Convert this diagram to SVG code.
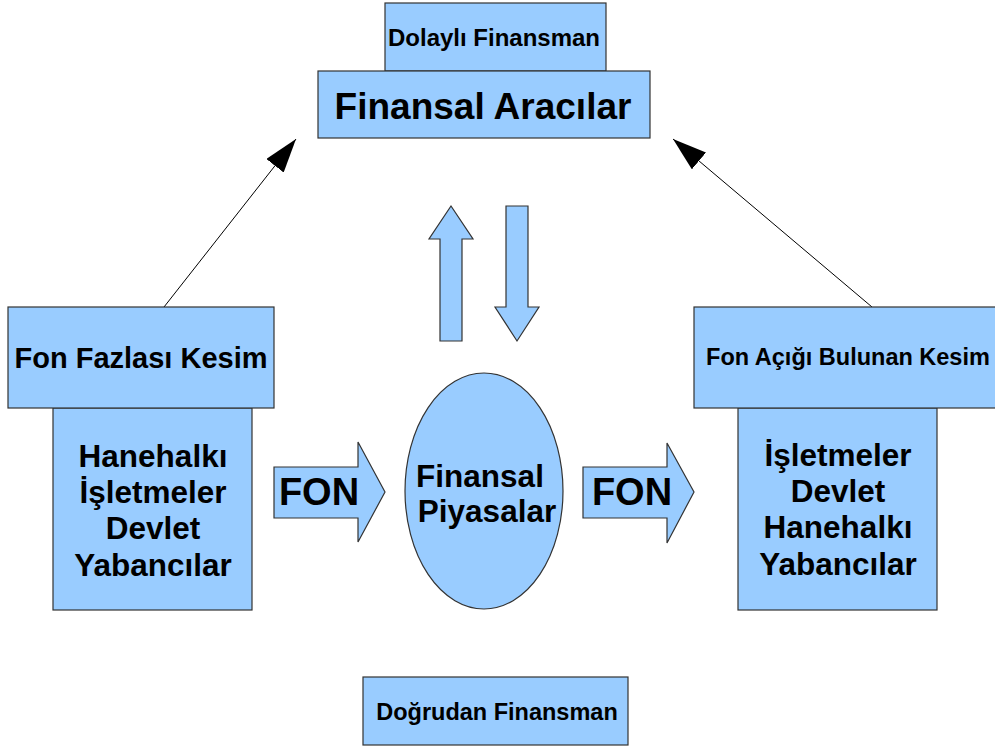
<svg xmlns="http://www.w3.org/2000/svg" width="995" height="746" viewBox="0 0 995 746">
<style>
.box{fill:#99ccff;stroke:#333;stroke-width:1.2}
.t{font-family:"Liberation Sans",Arial,sans-serif;font-weight:bold;fill:#000;text-anchor:middle}
.con{stroke:#000;stroke-width:1;fill:none}
</style>
<defs>
<marker id="ah" markerUnits="userSpaceOnUse" markerWidth="34" markerHeight="22" refX="34" refY="11" orient="auto">
<path d="M0,0 L34,11 L0,22 z" fill="#000"/>
</marker>
</defs>
<rect width="995" height="746" fill="#fff"/>
<g id="connectors">
<line class="con" x1="164" y1="307" x2="296" y2="139" marker-end="url(#ah)"/>
<line class="con" x1="872" y1="307" x2="673" y2="139" marker-end="url(#ah)"/>
</g>
<g id="dolayli">
<rect class="box" x="385" y="3" width="221" height="68"/>
<text class="t" x="494" y="46" font-size="24">Dolaylı Finansman</text>
</g>
<g id="aracilar">
<rect class="box" x="318" y="71" width="332" height="67"/>
<text class="t" x="483" y="119" font-size="37">Finansal Aracılar</text>
</g>
<g id="up-arrow">
<polygon class="box" points="451,206 473,239 462,239 462,341 440,341 440,239 429,239"/>
</g>
<g id="down-arrow">
<polygon class="box" points="506,206 528,206 528,307 539,307 517,341 495,307 506,307"/>
</g>
<g id="fazla-list">
<rect class="box" x="53" y="408" width="199" height="202"/>
<text class="t" x="153" y="467" font-size="31.5">Hanehalkı</text>
<text class="t" x="153" y="503" font-size="31.5">İşletmeler</text>
<text class="t" x="153" y="539" font-size="31.5">Devlet</text>
<text class="t" x="153" y="576" font-size="31.5">Yabancılar</text>
</g>
<g id="fazla">
<rect class="box" x="8" y="307" width="266" height="101"/>
<text class="t" x="141" y="368" font-size="29">Fon Fazlası Kesim</text>
</g>
<g id="fon-left">
<polygon class="box" points="274,467 358,467 358,442 385,492 358,542 358,518 274,518"/>
<text class="t" x="319" y="505" font-size="38">FON</text>
</g>
<g id="piyasalar">
<ellipse class="box" cx="484" cy="491" rx="79" ry="118"/>
<text class="t" x="480" y="487" font-size="31.5">Finansal</text>
<text class="t" x="487" y="522" font-size="31.5">Piyasalar</text>
</g>
<g id="fon-right">
<polygon class="box" points="583,467 667,467 667,443 694,492 667,543 667,518 583,518"/>
<text class="t" x="632" y="505" font-size="38">FON</text>
</g>
<g id="acik-list">
<rect class="box" x="738" y="408" width="199" height="202"/>
<text class="t" x="838" y="466" font-size="31.5">İşletmeler</text>
<text class="t" x="838" y="502" font-size="31.5">Devlet</text>
<text class="t" x="838" y="538" font-size="31.5">Hanehalkı</text>
<text class="t" x="838" y="575" font-size="31.5">Yabancılar</text>
</g>
<g id="acik">
<rect class="box" x="694" y="307" width="308" height="101"/>
<text class="t" x="848" y="365" font-size="23.5">Fon Açığı Bulunan Kesim</text>
</g>
<g id="dogrudan">
<rect class="box" x="363" y="677" width="265" height="68"/>
<text class="t" x="497" y="720" font-size="23.5">Doğrudan Finansman</text>
</g>
</svg>
